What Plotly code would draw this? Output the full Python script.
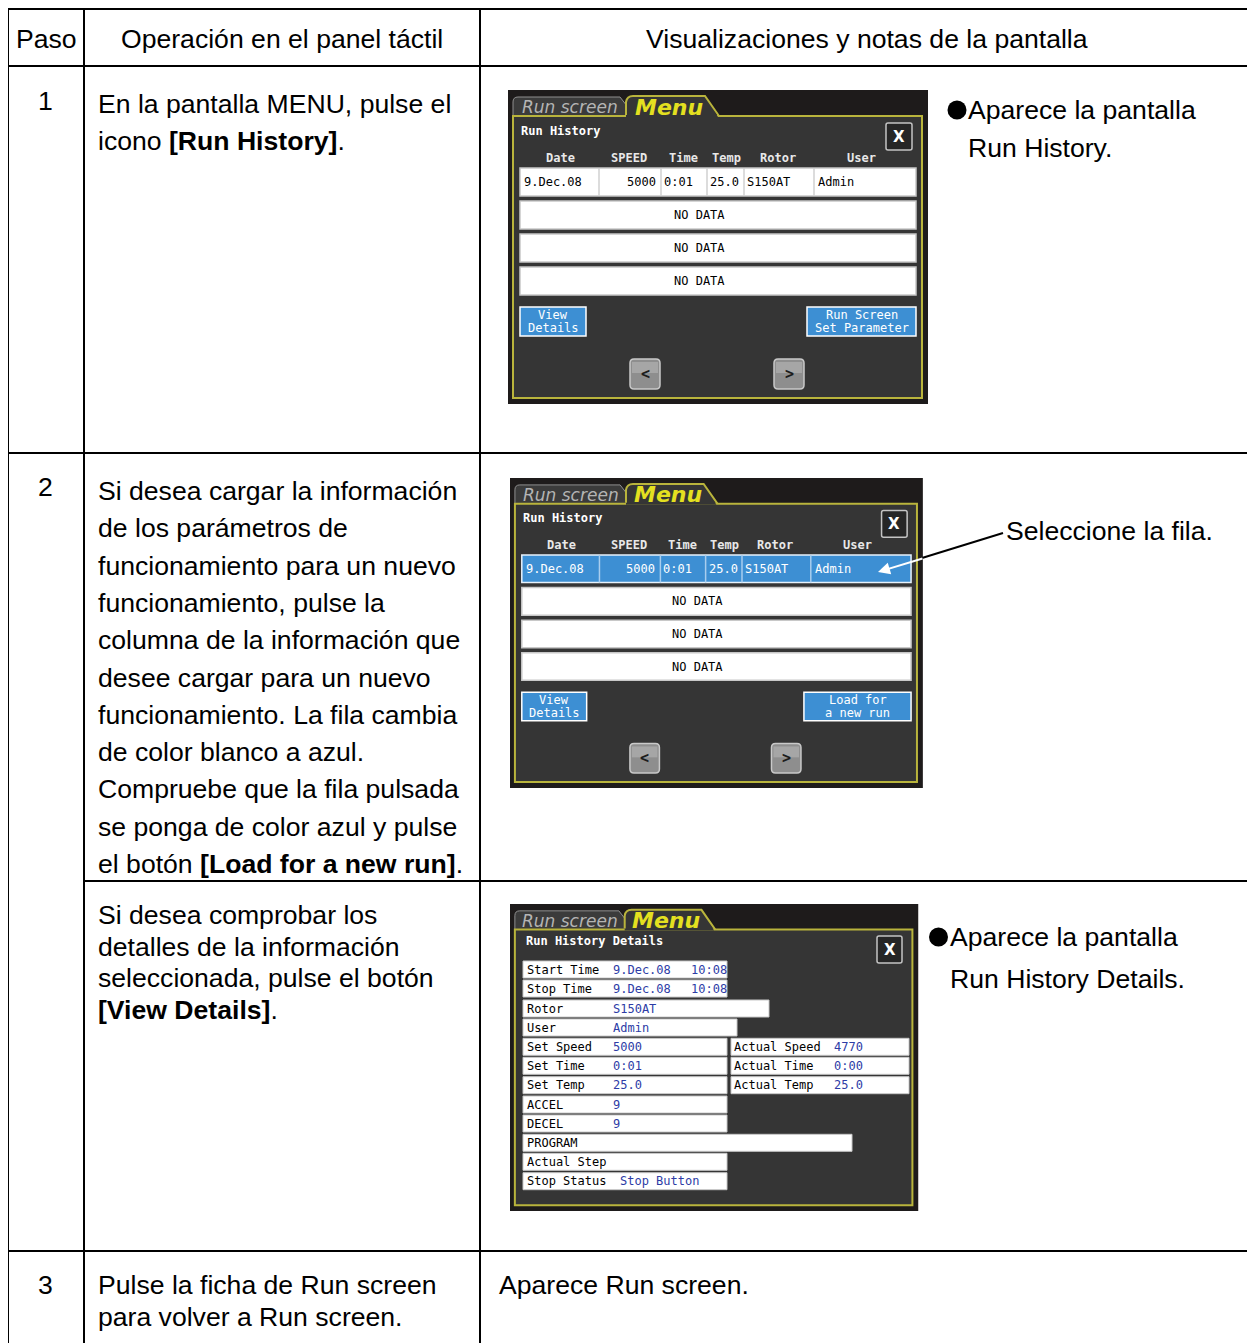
import plotly.graph_objects as go

W, H = 1255, 1343
PAGE_MARGIN = 8  # default body margin of the html page

# ---------------- data (texts) ----------------
header_texts = ["Paso", "Operación en el panel táctil", "Visualizaciones y notas de la pantalla"]
step_numbers = ["1", "2", "3"]
step1_operation = ["En la pantalla MENU, pulse el", "icono <b>[Run History]</b>."]
step1_notes = ["Aparece la pantalla", "Run History."]
step2_operation = [
    "Si desea cargar la información",
    "de los parámetros de",
    "funcionamiento para un nuevo",
    "funcionamiento, pulse la",
    "columna de la información que",
    "desee cargar para un nuevo",
    "funcionamiento. La fila cambia",
    "de color blanco a azul.",
    "Compruebe que la fila pulsada",
    "se ponga de color azul y pulse",
    "el botón <b>[Load for a new run]</b>.",
]
step2_notes = ["Seleccione la fila."]
step2b_operation = ["Si desea comprobar los", "detalles de la información",
                    "seleccionada, pulse el botón", "<b>[View Details]</b>."]
step2b_notes = ["Aparece la pantalla", "Run History Details."]
step3_operation = ["Pulse la ficha de Run screen", "para volver a Run screen."]
step3_notes = ["Aparece Run screen."]

tab_labels = ["Run screen", "Menu"]
history_title = "Run History"
history_columns = ["Date", "SPEED", "Time", "Temp", "Rotor", "User"]
history_record = ["9.Dec.08", "5000", "0:01", "25.0", "S150AT", "Admin"]
history_empty = ["NO DATA", "NO DATA", "NO DATA"]
history_left_button = ["View", "Details"]
history_right_button_1 = ["Run Screen", "Set Parameter"]
history_right_button_2 = ["Load for", "a new run"]
page_buttons = ["<", ">"]
close_label = "X"

details_title = "Run History Details"
details_labels = ["Start Time", "Stop Time", "Rotor", "User", "Set Speed", "Set Time",
                  "Set Temp", "ACCEL", "DECEL", "PROGRAM", "Actual Step", "Stop Status"]
details_values = ["9.Dec.08", "9.Dec.08", "S150AT", "Admin", "5000", "0:01",
                  "25.0", "9", "9", "", "", "Stop Button"]
details_clock = ["10:08", "10:08"]
actual_labels = ["Actual Speed", "Actual Time", "Actual Temp"]
actual_values = ["4770", "0:00", "25.0"]

# ---------------- styles ----------------
BODY = "Liberation Sans, Arial, sans-serif"
MONO = "DejaVu Sans Mono, monospace"
BODY_SIZE = 26.6
SCR_BG = "#1e1b1b"
PANEL = "#353535"
OLIVE = "#b9b43c"
BLUE = "#3d8fd3"
VAL_BLUE = "#2d3ca6"

shapes = []
annotations = []


def rect(x0, y0, x1, y1, fill, line=None, lw=0):
    shapes.append(dict(type="rect", xref="x", yref="y", x0=x0, y0=y0, x1=x1, y1=y1,
                       fillcolor=fill, line=dict(color=line or fill, width=lw)))


def circle(cx, cy, r, fill):
    shapes.append(dict(type="circle", xref="x", yref="y", x0=cx - r, y0=cy - r,
                       x1=cx + r, y1=cy + r, fillcolor=fill, line=dict(color=fill, width=0)))


def seg(x0, y0, x1, y1, color="black", lw=2):
    shapes.append(dict(type="line", xref="x", yref="y", x0=x0, y0=y0, x1=x1, y1=y1,
                       line=dict(color=color, width=lw)))


def path(d, fill, line, lw):
    shapes.append(dict(type="path", xref="x", yref="y", path=d, fillcolor=fill,
                       line=dict(color=line, width=lw)))


def rrect(x0, y0, x1, y1, r, fill, line, lw):
    d = (f"M {x0+r},{y0} L {x1-r},{y0} Q {x1},{y0} {x1},{y0+r} L {x1},{y1-r} "
         f"Q {x1},{y1} {x1-r},{y1} L {x0+r},{y1} Q {x0},{y1} {x0},{y1-r} "
         f"L {x0},{y0+r} Q {x0},{y0} {x0+r},{y0} Z")
    path(d, fill, line, lw)


def text(x, y, s, size=BODY_SIZE, color="black", family=BODY, xanchor="left"):
    annotations.append(dict(x=x, y=y, xref="x", yref="y", text=s, showarrow=False,
                            xanchor=xanchor, yanchor="middle", borderpad=0,
                            font=dict(size=size, color=color, family=family)))


# ---------------- table grid ----------------
TL, TC1, TC2, TR = 8, 84, 480, 1270
ROW_Y = [9, 66, 453, 1251]
for y in ROW_Y:
    seg(TL, y, TR, y)
seg(TC1, 881, TR, 881)
for x in [TL, TC1, TC2]:
    seg(x, ROW_Y[0], x, H + 20)

# header
text(46, 39, header_texts[0], xanchor="center")
text(282, 39, header_texts[1], xanchor="center")
text(867, 39, header_texts[2], xanchor="center")

# step numbers
text(45, 101, step_numbers[0], xanchor="center")
text(45, 487, step_numbers[1], xanchor="center")
text(45, 1285, step_numbers[2], xanchor="center")

OP_X = 97
for i, s in enumerate(step1_operation):
    text(OP_X, 104 + i * 37, s)
for i, s in enumerate(step2_operation):
    text(OP_X, 491 + i * 37.3, s)
for i, s in enumerate(step2b_operation):
    text(OP_X, 915 + i * 31.5, s)
for i, s in enumerate(step3_operation):
    text(OP_X, 1285 + i * 32, s)

circle(957, 110, 9.5, "black")
text(967, 110, step1_notes[0])
text(967, 148, step1_notes[1])
text(1005, 531, step2_notes[0])
circle(938.5, 937, 9.5, "black")
text(949, 937, step2b_notes[0])
text(949, 979, step2b_notes[1])
text(498, 1285, step3_notes[0])


# ---------------- screen helpers ----------------
class Screen:
    def __init__(self, ox, oy, sx, sy):
        self.ox, self.oy, self.sx, self.sy = ox, oy, sx, sy

    def X(self, u):
        return self.ox + u * self.sx

    def Y(self, v):
        return self.oy + v * self.sy


def frame(sc, w, h):
    X, Y = sc.X, sc.Y
    rect(X(0), Y(0), X(w), Y(h), SCR_BG)
    # run screen tab
    path(f"M {X(5)},{Y(27)} L {X(5)},{Y(12)} Q {X(5)},{Y(7)} {X(10)},{Y(7)} "
         f"L {X(112)},{Y(7)} L {X(119)},{Y(16)} L {X(119)},{Y(27)} Z",
         "#3b3b3b", "#8f8f8f", 1)
    # panel
    rect(X(5), Y(26), X(w - 6), Y(h - 6), PANEL, OLIVE, 2)
    # menu tab fill then border
    path(f"M {X(118)},{Y(27)} L {X(118)},{Y(12)} Q {X(119)},{Y(6)} {X(125)},{Y(6)} "
         f"L {X(197)},{Y(6)} L {X(210)},{Y(27)} Z", PANEL, PANEL, 0)
    path(f"M {X(118)},{Y(25)} L {X(118)},{Y(12)} Q {X(119)},{Y(6)} {X(125)},{Y(6)} "
         f"L {X(197)},{Y(6)} L {X(211)},{Y(26)}", "rgba(0,0,0,0)", OLIVE, 2)
    text(X(62), Y(17), f"<i>{tab_labels[0]}</i>", size=17, color="#b4b4b4",
         family="DejaVu Sans, sans-serif", xanchor="center")
    text(X(161), Y(17), f"<b><i>{tab_labels[1]}</i></b>", size=22, color="#e4e020",
         family="DejaVu Sans, sans-serif", xanchor="center")


def close_button(sc, x0, y0, x1, y1):
    rrect(sc.X(x0), sc.Y(y0), sc.X(x1), sc.Y(y1), 2, "#262626", "#c4c4c4", 1.5)
    text((sc.X(x0) + sc.X(x1)) / 2, (sc.Y(y0) + sc.Y(y1)) / 2, f"<b>{close_label}</b>",
         size=15, color="white", family="DejaVu Sans, sans-serif", xanchor="center")


def run_history_screen(sc, selected, right_button):
    X, Y = sc.X, sc.Y
    frame(sc, 420, 314)
    text(X(12), Y(41), f"<b>{history_title}</b>", size=12, color="white", family=MONO)
    close_button(sc, 378, 33, 404, 60)
    col_x = [52, 121, 175, 218, 270, 353]
    for cx, name in zip(col_x, history_columns):
        text(X(cx), Y(68), f"<b>{name}</b>", size=12, color="#e8e8e8", family=MONO,
             xanchor="center")
    # record row
    fill = BLUE if selected else "white"
    border = "#e8f2fb" if selected else "#c8c8c8"
    tcol = "white" if selected else "black"
    rect(X(12), Y(78), X(408), Y(106), fill, border, 1.5)
    for sx in [91, 153, 199, 236, 306]:
        seg(X(sx), Y(78), X(sx), Y(106), "#a8cdee" if selected else "#d0d0d0", 1.5)
    rx = [(15, "left"), (149, "right"), (155, "left"), (201, "left"), (238, "left"), (309, "left")]
    for (px, anc), val in zip(rx, history_record):
        text(X(px), Y(92), val, size=12, color=tcol, family=MONO, xanchor=anc)
    for (ty0, ty1), s in zip([(111, 139), (144, 172), (177, 205)], history_empty):
        rect(X(12), Y(ty0), X(408), Y(ty1), "white", "#c8c8c8", 1.5)
        text(X(191), Y((ty0 + ty1) / 2), s, size=12, family=MONO, xanchor="center")
    # buttons
    rect(X(12), Y(217), X(78), Y(246), BLUE, "white", 1.5)
    text(X(45), Y(225), history_left_button[0], size=12, color="white", family=MONO, xanchor="center")
    text(X(45), Y(238), history_left_button[1], size=12, color="white", family=MONO, xanchor="center")
    rect(X(299), Y(217), X(408), Y(246), BLUE, "white", 1.5)
    text(X(354), Y(225), right_button[0], size=12, color="white", family=MONO, xanchor="center")
    text(X(354), Y(238), right_button[1], size=12, color="white", family=MONO, xanchor="center")
    for (bx0, bx1), s in zip([(122, 152), (266, 296)], page_buttons):
        rrect(X(bx0), Y(269), X(bx1), Y(299), 4, "#8e8e8e", "#c9c9c9", 1.5)
        rect(X(bx0 + 2), Y(272), X(bx1 - 2), Y(283), "#a6a6a6")
        text((X(bx0) + X(bx1)) / 2, Y(284), f"<b>{s}</b>", size=15, color="#1c1c1c",
             family=MONO, xanchor="center")


# screen 1
run_history_screen(Screen(508, 90, 1.0, 1.0), False, history_right_button_1)
# screen 2
run_history_screen(Screen(510, 478, 0.983, 0.987), True, history_right_button_2)

# arrow pointing to selected row
seg(1003, 533, 922, 558, "black", 2)
annotations.append(dict(x=878, y=572, ax=924, ay=558, xref="x", yref="y", axref="x",
                        ayref="y", text="", showarrow=True, arrowhead=2, arrowsize=1.2,
                        arrowwidth=2, arrowcolor="white"))

# screen 3: details
s3 = Screen(510, 904, 0.972, 0.978)
frame(s3, 420, 314)
d = Screen(510, 904, 1.0, 1.0)
text(d.X(15), d.Y(37), f"<b>{details_title}</b>", size=12, color="white", family=MONO)
close_button(d, 367, 32, 392, 59)
row_tops = [57, 76, 96, 115, 134.3, 153.3, 172.7, 192, 211, 230.3, 249.3, 268.7]
row_right = [217, 217, 259, 227, 217, 217, 217, 217, 217, 342, 217, 217]
ROW_H = 17
for i, (top, right) in enumerate(zip(row_tops, row_right)):
    rect(d.X(13), d.Y(top), d.X(right), d.Y(top + ROW_H), "white", "#c8c8c8", 1)
    cy = d.Y(top + ROW_H / 2)
    text(d.X(15.5), cy, details_labels[i], size=12, family=MONO)
    if details_values[i]:
        vx = 109 if details_labels[i] == "Stop Status" else 101.5
        text(d.X(vx), cy, details_values[i], size=12, color=VAL_BLUE, family=MONO)
    if i < len(details_clock):
        text(d.X(180), cy, details_clock[i], size=12, color=VAL_BLUE, family=MONO)
for j in range(3):
    top = row_tops[4 + j]
    rect(d.X(221), d.Y(top), d.X(399), d.Y(top + ROW_H), "white", "#c8c8c8", 1)
    cy = d.Y(top + ROW_H / 2)
    text(d.X(222.5), cy, actual_labels[j], size=12, family=MONO)
    text(d.X(322.5), cy, actual_values[j], size=12, color=VAL_BLUE, family=MONO)

# ---------------- figure ----------------
fig = go.Figure()
fig.add_trace(go.Scatter(x=[PAGE_MARGIN, W + PAGE_MARGIN], y=[PAGE_MARGIN, H + PAGE_MARGIN],
                         mode="markers", marker=dict(opacity=0),
                         hoverinfo="skip", showlegend=False))
for s in shapes:
    s["layer"] = "above"
fig.update_layout(
    width=W, height=H, margin=dict(l=0, r=0, t=0, b=0),
    paper_bgcolor="white", plot_bgcolor="white",
    xaxis=dict(range=[PAGE_MARGIN, W + PAGE_MARGIN], visible=False, fixedrange=True),
    yaxis=dict(range=[H + PAGE_MARGIN, PAGE_MARGIN], visible=False, fixedrange=True),
    shapes=shapes, annotations=annotations, showlegend=False,
)
fig.write_html("out.html")
